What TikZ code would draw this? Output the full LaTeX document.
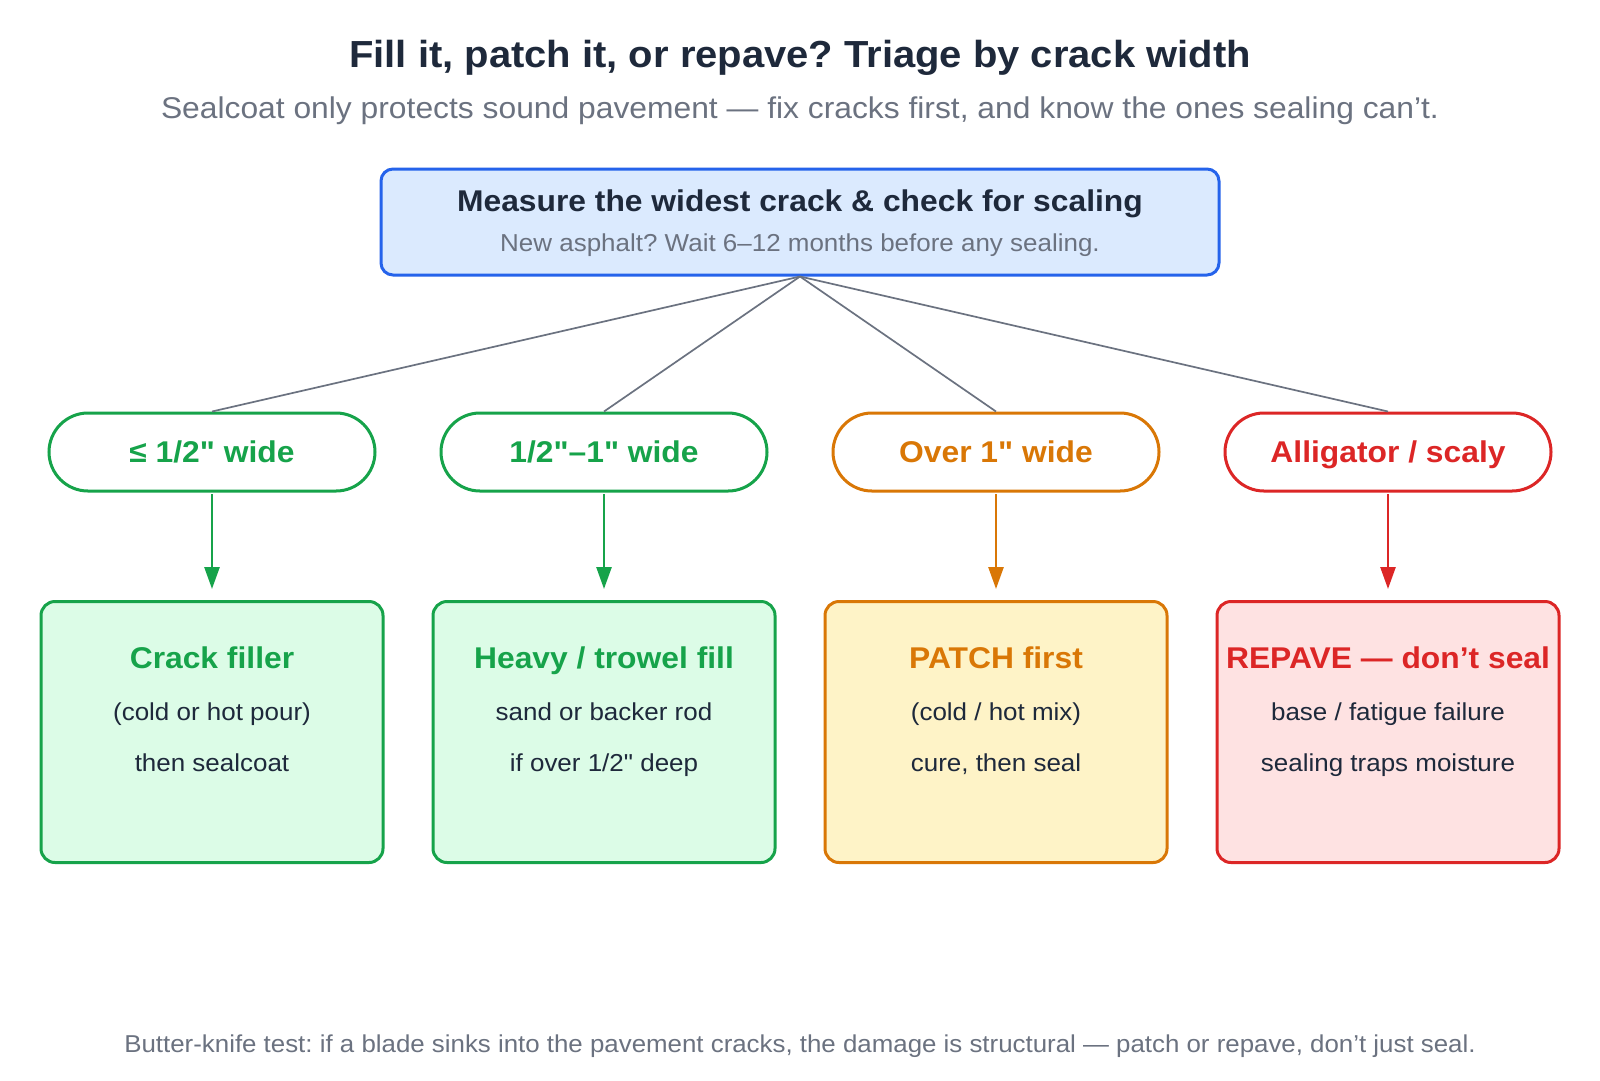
\documentclass[tikz,border=0pt]{standalone}
\usepackage{fontspec}
\setmainfont{Liberation Sans}[FakeStretch=1.06, Ligatures=TeXOff]
\usetikzlibrary{arrows.meta}
\frenchspacing
\definecolor{ink}{HTML}{1E293B}
\definecolor{muted}{HTML}{6B7280}
\definecolor{bluec}{HTML}{2563EB}
\definecolor{bluef}{HTML}{DBEAFE}
\definecolor{greenc}{HTML}{16A34A}
\definecolor{greenf}{HTML}{DCFCE7}
\definecolor{orangec}{HTML}{D97706}
\definecolor{orangef}{HTML}{FEF3C7}
\definecolor{redc}{HTML}{DC2626}
\definecolor{redf}{HTML}{FEE2E2}
\tikzset{
  txt/.style={inner sep=0pt, anchor=base},
  pill/.style={draw=#1, fill=white, line width=3pt, rounded corners=39pt, minimum width=326pt, minimum height=78pt, inner sep=0pt},
  card/.style={draw=#1, line width=3pt, rounded corners=14pt, minimum width=342pt, minimum height=261pt, inner sep=0pt},
  pilltext/.style={txt, text=#1, font=\fontsize{30}{36}\selectfont\bfseries},
  cardtitle/.style={txt, text=#1, font=\fontsize{30}{36}\selectfont\bfseries},
  cardline/.style={txt, text=ink, font=\fontsize{24.5}{30}\selectfont},
  link/.style={draw=muted, line width=1.7pt},
  flow/.style={draw=#1, line width=2.6pt, -{Triangle[length=22pt,width=15pt]}, shorten >=11pt, shorten <=1.5pt},
}
\begin{document}
\begin{tikzpicture}[x=1pt,y=-1pt]
\useasboundingbox (0,0) rectangle (1600,1080);
\fill[white] (0,0) rectangle (1600,1080);

\node[txt, text=ink, font=\fontsize{37.7}{44}\selectfont\bfseries] (title) at (800,67) {Fill it, patch it, or repave? Triage by crack width};
\node[txt, text=muted, font=\fontsize{30}{36}\selectfont] (subtitle) at (800,118.5) {Sealcoat only protects sound pavement — fix cracks first, and know the ones sealing can’t.};

\node[draw=bluec, fill=bluef, line width=3pt, rounded corners=12pt, minimum width=838pt, minimum height=106pt] (top) at (800,222) {};
\node[txt, text=ink, font=\fontsize{30}{36}\selectfont\bfseries] (toptitle) at (800,211.5) {Measure the widest crack \& check for scaling};
\node[txt, text=muted, font=\fontsize{24.5}{30}\selectfont] (topsub) at (800,251.5) {New asphalt? Wait 6–12 months before any sealing.};

\node[pill=greenc] (p1) at (212,452) {};
\node[pill=greenc] (p2) at (604,452) {};
\node[pill=orangec] (p3) at (996,452) {};
\node[pill=redc] (p4) at (1388,452) {};
\node[pilltext=greenc] (p1t) at (212,462.5) {≤ 1/2" wide};
\node[pilltext=greenc] (p2t) at (604,462.5) {1/2"–1" wide};
\node[pilltext=orangec] (p3t) at (996,462.5) {Over 1" wide};
\node[pilltext=redc] (p4t) at (1388,462.5) {Alligator / scaly};

\foreach \p in {p1,p2,p3,p4} \draw[link] (top.south) -- (\p.north);

\node[card=greenc, fill=greenf] (b1) at (212,732) {};
\node[card=greenc, fill=greenf] (b2) at (604,732) {};
\node[card=orangec, fill=orangef] (b3) at (996,732) {};
\node[card=redc, fill=redf] (b4) at (1388,732) {};

\draw[flow=greenc] (p1.south) -- (b1.north);
\draw[flow=greenc] (p2.south) -- (b2.north);
\draw[flow=orangec] (p3.south) -- (b3.north);
\draw[flow=redc] (p4.south) -- (b4.north);

\node[cardtitle=greenc] (b1t) at (212,668) {Crack filler};
\node[cardline] (b1a) at (212,720) {(cold or hot pour)};
\node[cardline] (b1b) at (212,771) {then sealcoat};

\node[cardtitle=greenc] (b2t) at (604,668) {Heavy / trowel fill};
\node[cardline] (b2a) at (604,720) {sand or backer rod};
\node[cardline] (b2b) at (604,771) {if over 1/2" deep};

\node[cardtitle=orangec] (b3t) at (996,668) {PATCH first};
\node[cardline] (b3a) at (996,720) {(cold / hot mix)};
\node[cardline] (b3b) at (996,771) {cure, then seal};

\node[cardtitle=redc] (b4t) at (1388,668) {REPAVE — don’t seal};
\node[cardline] (b4a) at (1388,720) {base / fatigue failure};
\node[cardline] (b4b) at (1388,771) {sealing traps moisture};

\node[txt, text=muted, font=\fontsize{24.4}{29}\selectfont] (foot) at (800,1052) {Butter-knife test: if a blade sinks into the pavement cracks, the damage is structural — patch or repave, don’t just seal.};
\end{tikzpicture}
\end{document}
